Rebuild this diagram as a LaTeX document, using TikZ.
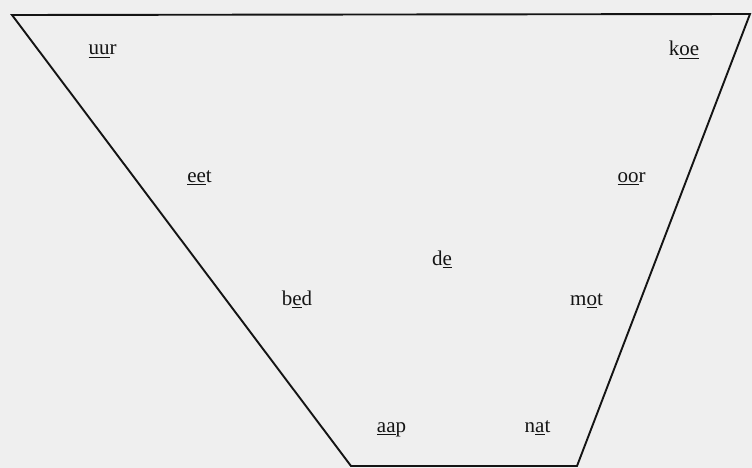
\documentclass[tikz,border=0pt]{standalone}
\usepackage{fontspec}
\setmainfont{Liberation Serif}
\newcommand\ulx[1]{\setbox0\hbox{#1}\rlap{\rule[-3.4pt]{\wd0}{1.6pt}}\box0}
\definecolor{paper}{RGB}{239,239,239}
\definecolor{ink}{RGB}{20,20,20}
\begin{document}
\begin{tikzpicture}[x=1pt,y=-1pt,
  word/.style={anchor=base,inner sep=0pt,text=ink,font=\fontsize{21}{25}\selectfont}]
\useasboundingbox (0,0) rectangle (752,468);
\fill[paper] (0,0) rectangle (752,468);
\coordinate (tl) at (12,15);
\coordinate (tr) at (750,14);
\coordinate (br) at (577,466);
\coordinate (bl) at (351,466);
\draw[ink,line width=1.9pt,line join=miter] (tl) -- (tr) -- (br) -- (bl) -- cycle;
\node[word] (uur) at (102.5,55) {\ulx{uu}r};
\node[word] (koe) at (684,56) {k\ulx{oe}};
\node[word] (eet) at (199.5,182) {\ulx{ee}t};
\node[word] (oor) at (631.5,182) {\ulx{oo}r};
\node[word] (de) at (442,265) {d\ulx{e}};
\node[word] (bed) at (297,305) {b\ulx{e}d};
\node[word] (mot) at (586.5,305) {m\ulx{o}t};
\node[word] (aap) at (391.5,432) {\ulx{aa}p};
\node[word] (nat) at (537.5,432) {n\ulx{a}t};
\end{tikzpicture}
\end{document}
